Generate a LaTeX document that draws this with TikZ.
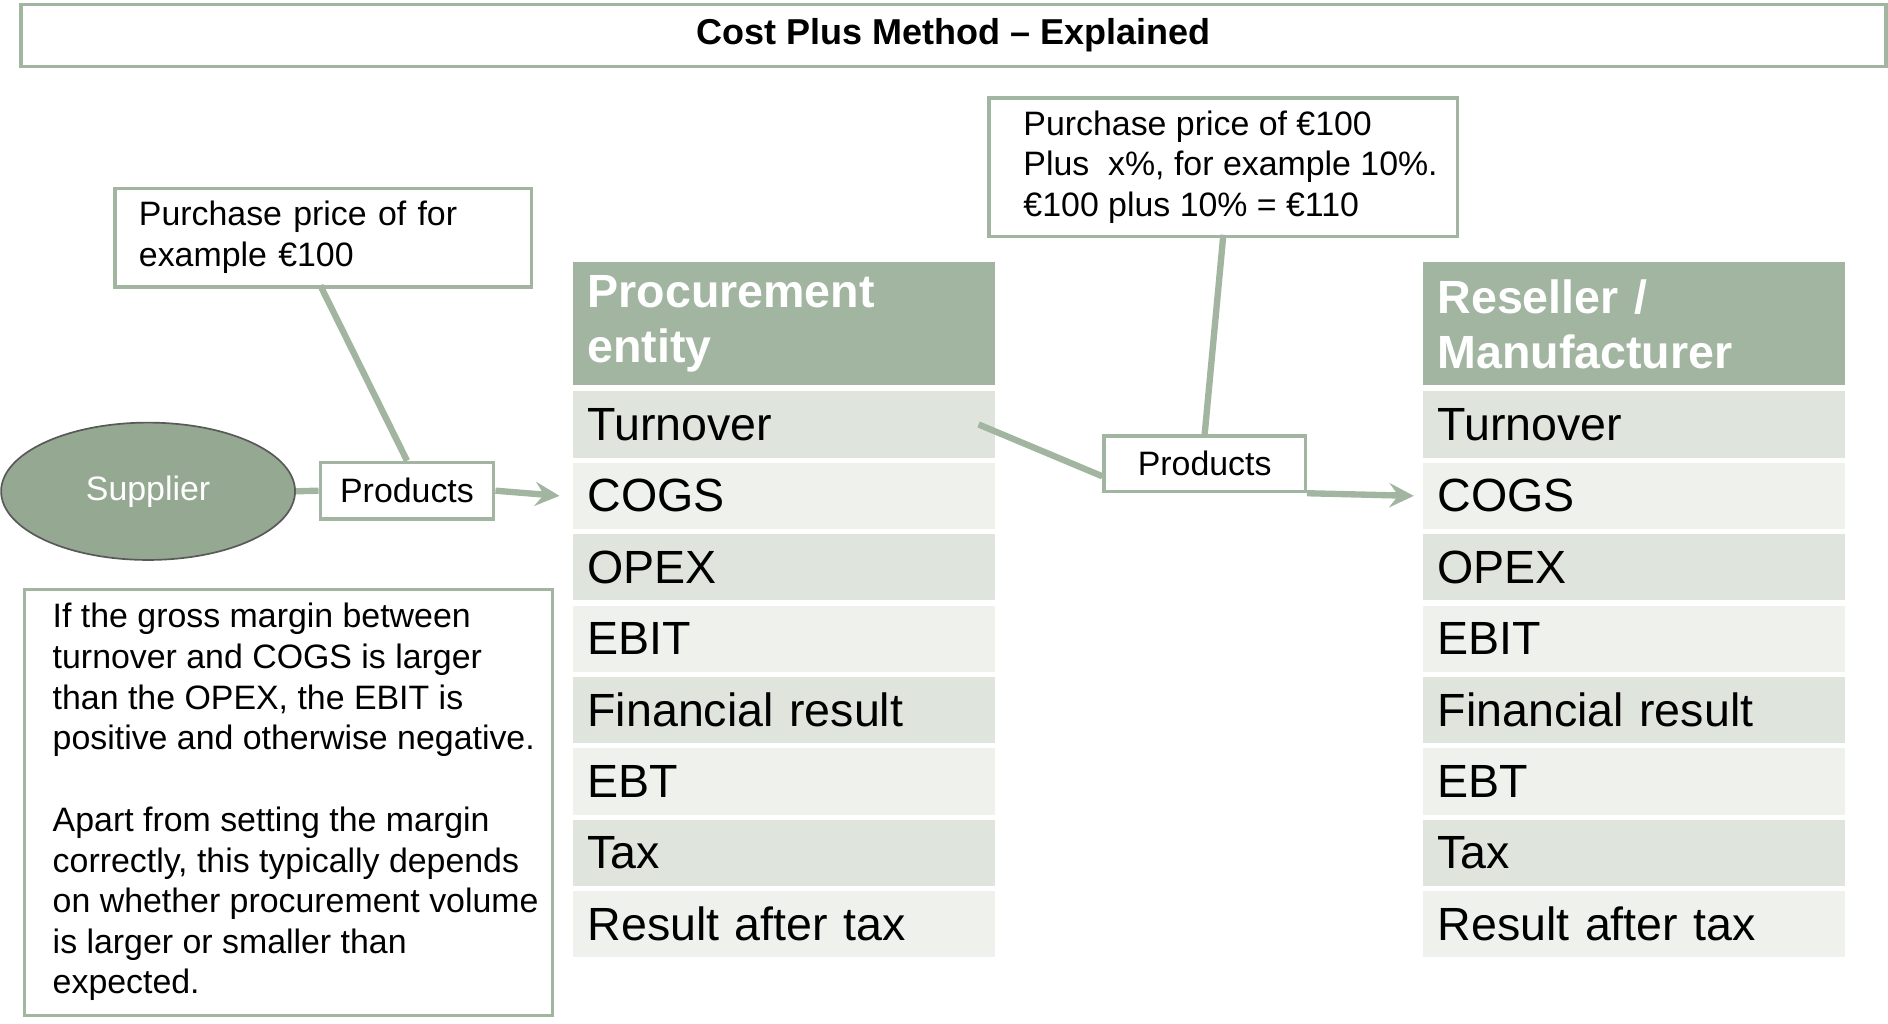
\documentclass[tikz,border=0pt]{standalone}
\usepackage{fontspec}
\setmainfont{Liberation Sans}
\usetikzlibrary{shapes.geometric, arrows}
\definecolor{sage}{HTML}{A2B5A0}
\definecolor{sagedark}{HTML}{95A892}
\definecolor{rowdark}{HTML}{DFE5DD}
\definecolor{rowlight}{HTML}{EEF1EC}
\tikzstyle{textbox} = [rectangle, draw=sage, line width=0.8pt, align=left, inner sep=0pt, anchor=north west, font=\fontsize{8}{9.6}\selectfont]
\tikzstyle{header} = [rectangle, fill=sage, minimum width=3.5cm, minimum height=1.02cm, inner sep=0pt, text=white, font=\bfseries\fontsize{11}{13}\selectfont, align=left, text width=3.26cm]
\tikzstyle{row} = [rectangle, minimum width=3.5cm, minimum height=0.55cm, inner sep=0pt, text width=3.26cm, align=left, font=\fontsize{11}{13}\selectfont]
\tikzstyle{connector} = [draw=sage, line width=1.5pt]
\tikzstyle{arrow} = [connector, ->, >=stealth]
\begin{document}
\begin{tikzpicture}[x=0.01cm, y=-0.01cm]
	\useasboundingbox (0,0) rectangle (1568,850);
	% title
	\node (title) [rectangle, draw=sage, line width=0.8pt, minimum width=15.48cm, minimum height=0.49cm, font=\bfseries\fontsize{8.5}{10}\selectfont] at (792,29.5) {Cost Plus Method -- Explained};
	% notes
	\node (note1) [textbox, minimum width=3.46cm, minimum height=0.82cm, text width=3.3cm] at (94,155) {\\[-4pt]\hspace*{0.12cm}Purchase price of for\\\hspace*{0.12cm}example €100};
	\node (note2) [textbox, minimum width=3.89cm, minimum height=1.15cm] at (820,80) {\\[-4pt]\hspace*{0.12cm}Purchase price of €100\\\hspace*{0.12cm}Plus\ \ x\%, for example\ 10\%.\\\hspace*{0.12cm}€100 plus 10\% = €110};
	\node (note3) [textbox, minimum width=4.38cm, minimum height=3.54cm] at (19,488) {\\[-4pt]\hspace*{0.12cm}If the gross margin between\\\hspace*{0.12cm}turnover and COGS is larger\\\hspace*{0.12cm}than the OPEX, the EBIT is\\\hspace*{0.12cm}positive and otherwise negative.\\[0.34cm]\hspace*{0.12cm}Apart from setting the margin\\\hspace*{0.12cm}correctly, this typically depends\\\hspace*{0.12cm}on whether procurement volume\\\hspace*{0.12cm}is larger or smaller than\\\hspace*{0.12cm}expected.};
	% supplier and products
	\node (supplier) [ellipse, draw=gray!70!black, fill=sagedark, minimum width=2.44cm, minimum height=1.14cm, text=white, font=\fontsize{8}{9.6}\selectfont] at (123,408) {Supplier};
	\node (prod1) [rectangle, draw=sage, line width=0.8pt, minimum width=1.44cm, minimum height=0.47cm, font=\fontsize{8}{9.6}\selectfont] at (338,407.5) {Products};
	\node (prod2) [rectangle, draw=sage, line width=0.8pt, minimum width=1.67cm, minimum height=0.46cm, font=\fontsize{8}{9.6}\selectfont] at (1000.5,385) {Products};
	% tables
	\node (phead) [header] at (651,269) {Procurement\\entity};
	\node (rhead) [header] at (1357,269) {Reseller /\\Manufacturer};
	\foreach \name [count=\i] in {Turnover, COGS, OPEX, EBIT, Financial result, EBT, Tax, Result after tax} {
		\pgfmathsetmacro{\ypos}{352.5+59.3*(\i-1)}
		\ifodd\i \def\rowfill{rowdark}\else \def\rowfill{rowlight}\fi
		\node (p\i) [row, fill=\rowfill] at (651,\ypos) {\name};
		\node (r\i) [row, fill=\rowfill] at (1357,\ypos) {\name};
	}
	% connectors
	\draw [connector] (266,237) -- (prod1.north);
	\draw [connector] (supplier.east) -- (prod1.west);
	\draw [arrow] (prod1.east) -- ([xshift=-3pt]p2.west);
	\draw [connector] ([xshift=-4pt]p1.east) -- ([yshift=-3pt]prod2.west);
	\draw [arrow] ([yshift=-7pt]prod2.east) -- ([xshift=-2pt]r2.west);
	\draw [connector] (1016,195) -- (prod2.north);
\end{tikzpicture}
\end{document}
